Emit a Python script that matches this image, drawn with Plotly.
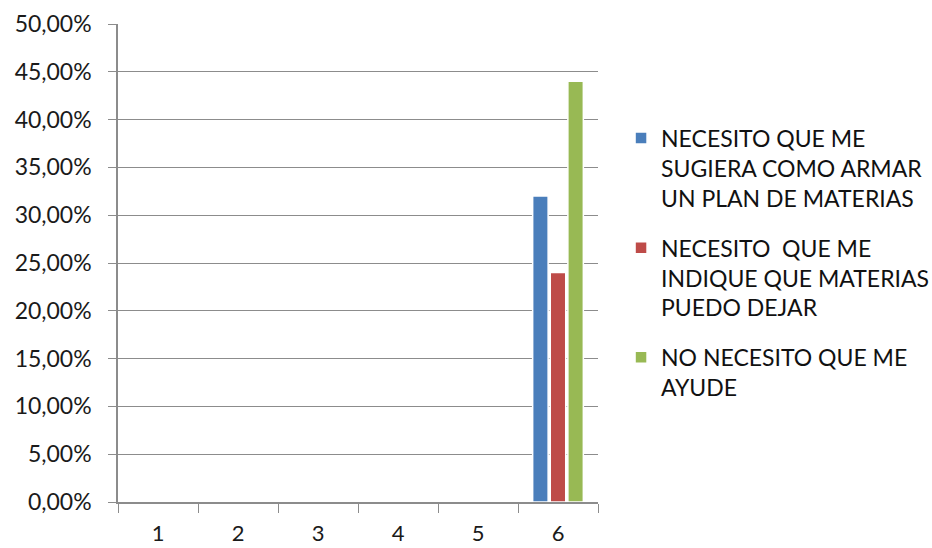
import plotly.graph_objects as go

categories = ["1", "2", "3", "4", "5", "6"]
series_names = [
    "NECESITO QUE ME<br>SUGIERA COMO ARMAR<br>UN PLAN DE MATERIAS",
    "NECESITO  QUE ME<br>INDIQUE QUE MATERIAS<br>PUEDO DEJAR",
    "NO NECESITO QUE ME<br>AYUDE",
]
plan_values = [None, None, None, None, None, 0.32]
dejar_values = [None, None, None, None, None, 0.24]
no_ayuda_values = [None, None, None, None, None, 0.44]
colors = ["#4A7EBB", "#BE4B48", "#98B954"]
y_ticks = [i * 0.05 for i in range(11)]

fig = go.Figure()
for i, (name, vals, col) in enumerate(zip(series_names, [plan_values, dejar_values, no_ayuda_values], colors)):
    fig.add_trace(go.Bar(
        x=categories, y=vals, name=name, legendgroup=f"g{i}",
        marker=dict(color=col, line=dict(color="white", width=1.5)),
    ))

font = "Lato, Open Sans, sans-serif"
fig.update_layout(
    width=932, height=548,
    margin=dict(l=118, r=334, t=24, b=46, autoexpand=False),
    paper_bgcolor="white", plot_bgcolor="white",
    separators=",.",
    barmode="group", bargap=0.34, bargroupgap=0.12,
    font=dict(family=font, size=23, color="#1a1a1a"),
    showlegend=True,
    legend=dict(
        x=1.048, xanchor="left", y=0.5, yanchor="middle",
        font=dict(family=font, size=23, color="#111"),
        tracegroupgap=17, valign="top",
    ),
)
fig.update_yaxes(
    range=[0, 0.5], tickvals=y_ticks, tickformat=".2%",
    showgrid=True, gridcolor="#8c8c8c", gridwidth=1,
    showline=True, linecolor="#8c8c8c", linewidth=1.5,
    ticks="outside", ticklen=8, tickcolor="#8c8c8c",
    ticklabelstandoff=12, automargin=False,
    tickfont=dict(size=23, color="#1a1a1a"), zeroline=False,
)
fig.update_xaxes(
    type="category", showline=True, linecolor="#8c8c8c", linewidth=1.5,
    ticks="outside", tickson="boundaries", ticklen=9, tickcolor="#8c8c8c",
    ticklabelstandoff=11, automargin=False,
    tickfont=dict(size=22, color="#1a1a1a"), showgrid=False,
)
fig.write_html("out.html", config={"displayModeBar": False},
               post_script="document.body.style.margin='0';")
